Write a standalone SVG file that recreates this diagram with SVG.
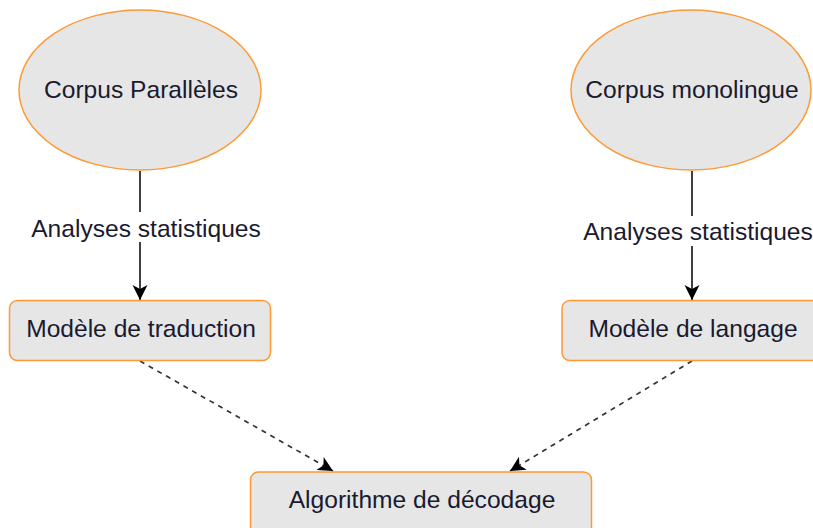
<svg xmlns="http://www.w3.org/2000/svg" width="813" height="528" viewBox="0 0 813 528">
<defs>
<style>
.node{fill:#e6e6e6;stroke:#ff9933;stroke-width:1.5}
.t{font-family:"Liberation Sans",Arial,sans-serif;font-size:24.6px;fill:#1a1a2e;text-anchor:middle}
.solid{stroke:#000;stroke-width:1.5;fill:none}
.dash{stroke:#333;stroke-width:1.7;fill:none;stroke-dasharray:5 5}
</style>
<marker id="arr" markerWidth="18" markerHeight="18" refX="15" refY="9" orient="auto" markerUnits="userSpaceOnUse">
<path d="M0,1.5 L15,9 L0,16.5 L4,9 Z" fill="#000"/>
</marker>
</defs>
<rect width="813" height="528" fill="#fff"/>
<g id="connectors">
<line class="solid" x1="140" y1="171" x2="140" y2="300" marker-end="url(#arr)"/>
<line class="solid" x1="692" y1="171" x2="692" y2="300" marker-end="url(#arr)"/>
<line class="dash" x1="140" y1="361" x2="333" y2="471" marker-end="url(#arr)"/>
<line class="dash" x1="692" y1="361" x2="510" y2="471" marker-end="url(#arr)"/>
<rect x="28" y="212" width="236" height="30" fill="#fff"/>
<text class="t" x="146" y="237">Analyses statistiques</text>
<rect x="580" y="216" width="233" height="30" fill="#fff"/>
<text class="t" x="698" y="240">Analyses statistiques</text>
</g>
<g id="corpus-paralleles">
<ellipse class="node" cx="140" cy="90" rx="121" ry="80"/>
<text class="t" x="141" y="98">Corpus Parallèles</text>
</g>
<g id="corpus-monolingue">
<ellipse class="node" cx="691" cy="90" rx="120" ry="80"/>
<text class="t" x="692" y="98">Corpus monolingue</text>
</g>
<g id="modele-traduction">
<rect class="node" x="9.5" y="300.5" width="261" height="60" rx="8"/>
<text class="t" x="141" y="337">Modèle de traduction</text>
</g>
<g id="modele-langage">
<rect class="node" x="562" y="300.5" width="260" height="60" rx="8"/>
<text class="t" x="693" y="337">Modèle de langage</text>
</g>
<g id="algorithme-decodage">
<rect class="node" x="250.5" y="472" width="341" height="70" rx="8"/>
<text class="t" x="422" y="508">Algorithme de décodage</text>
</g>
</svg>
